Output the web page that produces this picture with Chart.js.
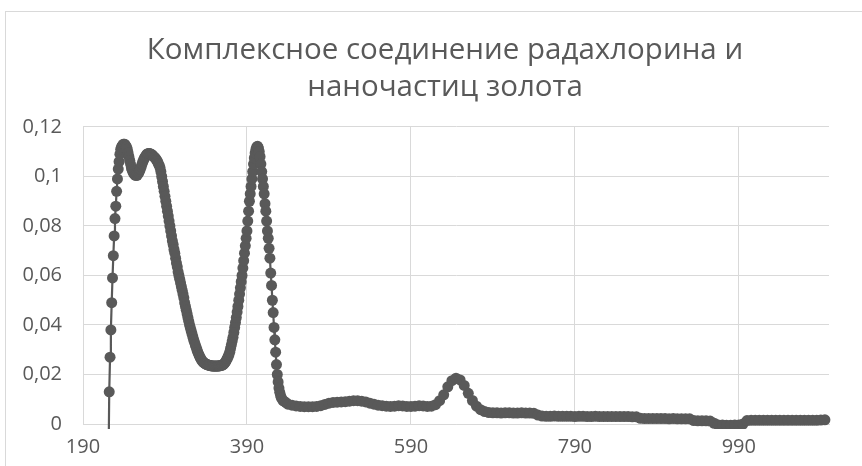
<!DOCTYPE html>
<html><head><meta charset="utf-8">
<script src="https://cdn.jsdelivr.net/npm/chart.js@4/dist/chart.umd.min.js"></script>
<style>
html,body{margin:0;padding:0;background:#fff;width:862px;height:466px;overflow:hidden}
#frame{position:absolute;left:5px;top:11px;width:900px;height:500px;border-left:1px solid #d9d9d9;border-top:1px solid #d9d9d9}
#wrap{position:absolute;left:0;top:0;width:862px;height:466px}
</style></head><body>
<div id="frame"></div>
<div id="wrap"><canvas id="c" width="862" height="466"></canvas></div>
<script>
const titleLines = ['Комплексное соединение радахлорина и', 'наночастиц золота'];
const xTickValues = [190, 390, 590, 790, 990];
const yTickValues = [0, 0.02, 0.04, 0.06, 0.08, 0.1, 0.12];

const wavelengthNm = [
  221,222,223,224,225,226,227,228,229,230,
  231,232,233,234,235,236,237,238,239,240,
  241,242,243,244,245,246,247,248,249,250,
  251,252,253,254,255,256,257,258,259,260,
  261,262,263,264,265,266,267,268,269,270,
  271,272,273,274,275,276,277,278,279,280,
  281,282,283,284,285,286,287,288,289,290,
  291,292,293,294,295,296,297,298,299,300,
  301,302,303,304,305,306,307,308,309,310,
  311,312,313,314,315,316,317,318,319,320,
  321,322,323,324,325,326,327,328,329,330,
  331,332,333,334,335,336,337,338,339,340,
  341,342,343,344,345,346,347,348,349,350,
  351,352,353,354,355,356,357,358,359,360,
  361,362,363,364,365,366,367,368,369,370,
  371,372,373,374,375,376,377,378,379,380,
  381,382,383,384,385,386,387,388,389,390,
  391,392,393,394,395,396,397,398,399,400,
  401,402,403,404,405,406,407,408,409,410,
  411,412,413,414,415,416,417,418,419,420,
  421,422,423,424,425,426,427,428,429,430,
  431,432,434,436,438,440,
  445,450,455,460,465,470,475,480,485,490,
  495,500,505,510,515,520,525,530,535,540,
  545,550,555,560,565,570,575,580,585,590,
  595,600,605,610,615,620,625,630,635,640,
  645,650,655,660,665,670,675,680,685,690,
  695,700,705,710,715,720,725,730,735,740,
  745,750,755,760,765,770,775,780,785,790,
  795,800,805,810,815,820,825,830,835,840,
  845,850,855,860,865,870,875,880,885,890,
  895,900,905,910,915,920,925,930,935,940,
  945,950,955,960,965,970,975,980,985,990,
  995,1000,1005,1010,1015,1020,1025,1030,1035,1040,
  1045,1050,1055,1060,1065,1070,1075,1080,1085,1090,
  1095
];

const absorbance = [
  -0.02,0.013,0.027,0.038,0.049,0.059,0.068,0.076,0.083,0.088,
  0.094,0.099,0.103,0.106,0.109,0.111,0.112,0.1125,0.113,0.113,
  0.113,0.1125,0.112,0.111,0.1095,0.108,0.1065,0.105,0.1035,0.1025,
  0.1018,0.1012,0.1008,0.1005,0.1005,0.1005,0.101,0.1015,0.1022,0.103,
  0.104,0.105,0.106,0.1068,0.1075,0.108,0.1085,0.109,0.1092,0.1093,
  0.1093,0.1092,0.109,0.1088,0.1085,0.108,0.1078,0.1075,0.107,0.1065,
  0.106,0.105,0.1045,0.1035,0.102,0.100,0.098,0.096,0.094,0.092,
  0.090,0.088,0.086,0.084,0.082,0.080,0.078,0.076,0.074,0.0725,
  0.0705,0.069,0.067,0.065,0.0635,0.0615,0.060,0.0585,0.057,0.0555,
  0.054,0.0525,0.051,0.049,0.0475,0.046,0.0445,0.043,0.0415,0.040,
  0.0388,0.0376,0.0364,0.0352,0.034,0.033,0.032,0.031,0.030,0.029,
  0.0282,0.0275,0.0268,0.0262,0.0257,0.0252,0.0249,0.0246,0.0244,0.0242,
  0.024,0.0239,0.0238,0.0237,0.0236,0.0235,0.0235,0.0234,0.0234,0.0234,
  0.0234,0.0234,0.0234,0.0234,0.0234,0.0235,0.0235,0.0236,0.0237,0.0238,
  0.024,0.0243,0.0247,0.0252,0.0258,0.0265,0.0272,0.028,0.029,0.0305,
  0.032,0.0335,0.035,0.037,0.039,0.041,0.043,0.0452,0.0475,0.050,
  0.0525,0.055,0.0575,0.060,0.063,0.066,0.069,0.072,0.075,0.078,
  0.082,0.086,0.090,0.093,0.096,0.099,0.102,0.105,0.1075,0.1095,
  0.111,0.112,0.1122,0.1115,0.110,0.108,0.105,0.102,0.099,0.096,
  0.093,0.089,0.086,0.082,0.078,0.075,0.071,0.067,0.061,0.056,
  0.050,0.045,0.039,0.034,0.029,0.024,0.020,0.017,0.0145,0.0128,
  0.0115,0.0105,0.0095,0.009,0.0085,0.008,
  0.0076,0.0073,0.0071,0.007,0.007,0.007,0.0071,0.0074,0.0079,0.0084,
  0.0087,0.0088,0.0089,0.009,0.0092,0.0094,0.0094,0.0092,0.0089,0.0084,
  0.008,0.0076,0.0074,0.0072,0.0071,0.0072,0.0074,0.0073,0.0071,0.0071,
  0.0072,0.0074,0.0073,0.0071,0.0072,0.0078,0.0094,0.0118,0.015,0.0175,
  0.0185,0.0178,0.0156,0.0124,0.0095,0.0072,0.0058,0.005,0.0046,0.0045,
  0.0045,0.0044,0.0045,0.0045,0.0044,0.0044,0.0045,0.0044,0.0044,0.0043,
  0.0036,0.0032,0.0031,0.0031,0.0032,0.0031,0.0031,0.0031,0.0031,0.003,
  0.0031,0.0031,0.003,0.003,0.0031,0.003,0.003,0.003,0.003,0.003,
  0.003,0.003,0.003,0.0029,0.0029,0.0023,0.0022,0.0022,0.0022,0.0022,
  0.0022,0.0022,0.0021,0.0022,0.0021,0.0021,0.0021,0.0021,0.0014,0.0013,
  0.0013,0.0013,0.0012,0.0003,-0.0004,-0.0004,-0.0005,-0.0005,-0.0004,-0.0004,
  0.0000,0.0014,0.0015,0.0015,0.0015,0.0015,0.0015,0.0015,0.0015,0.0015,
  0.0015,0.0015,0.0015,0.0015,0.0015,0.0015,0.0015,0.0015,0.0015,0.0016,
  0.0017
];

const seriesColor = '#595959';
const gridColor = '#d9d9d9';
const textColor = '#595959';
const fontFamily = "'Open Sans', 'Noto Sans', sans-serif";

const points = wavelengthNm.map((x, i) => ({ x: x, y: absorbance[i] }));

// centre the title over the whole chart frame rather than the padded box
const titleShift = {
  id: 'titleShift',
  afterLayout(chart) {
    if (chart.titleBlock) {
      chart.titleBlock.left = 61;
      chart.titleBlock.right = 829;
    }
  }
};

new Chart(document.getElementById('c').getContext('2d'), {
  type: 'scatter',
  data: {
    datasets: [{
      data: points,
      showLine: true,
      borderColor: seriesColor,
      backgroundColor: seriesColor,
      pointBackgroundColor: seriesColor,
      pointBorderColor: seriesColor,
      pointBorderWidth: 0,
      pointRadius: 5.5,
      borderWidth: 2.2,
      tension: 0,
      clip: { left: 8, top: 8, right: 10, bottom: 5 }
    }]
  },
  options: {
    responsive: false,
    animation: false,
    events: [],
    devicePixelRatio: 1,
    layout: { padding: { left: 0, right: 33, top: 0, bottom: 0 } },
    plugins: {
      legend: { display: false },
      tooltip: { enabled: false },
      title: {
        display: true,
        text: titleLines,
        color: textColor,
        font: { family: fontFamily, size: 29.5, weight: 'normal', lineHeight: 1.254 },
        padding: { top: 32, bottom: 21 }
      }
    },
    scales: {
      x: {
        type: 'linear',
        min: 190,
        max: 1100,
        afterBuildTicks: s => { s.ticks = xTickValues.map(v => ({ value: v })); },
        afterFit: s => { s.height = 42; },
        grid: { color: gridColor, lineWidth: 1, drawTicks: false },
        border: { color: gridColor, width: 1 },
        ticks: {
          color: textColor, font: { family: fontFamily, size: 20 },
          padding: 11, autoSkip: false, maxRotation: 0,
          callback: v => String(v)
        }
      },
      y: {
        type: 'linear',
        min: 0,
        max: 0.12,
        afterBuildTicks: s => { s.ticks = yTickValues.map(v => ({ value: v })); },
        afterFit: s => { s.width = 83; },
        grid: { color: gridColor, lineWidth: 1, drawTicks: false },
        border: { color: gridColor, width: 1 },
        ticks: {
          color: textColor, font: { family: fontFamily, size: 20 },
          padding: 21, autoSkip: false,
          callback: v => String(v).replace('.', ',')
        }
      }
    }
  },
  plugins: [titleShift]
});
</script>
</body></html>
